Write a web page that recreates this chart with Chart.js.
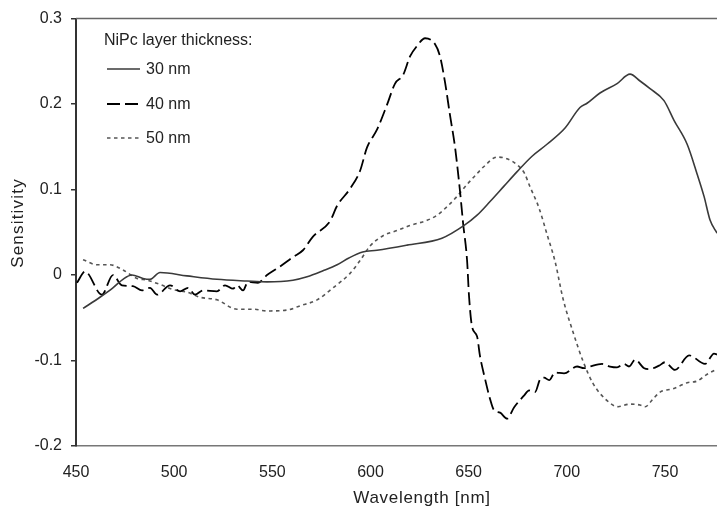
<!DOCTYPE html>
<html>
<head>
<meta charset="utf-8">
<script src="https://cdn.jsdelivr.net/npm/chart.js@4"></script>
<style>
  html, body { margin: 0; padding: 0; background: #fff; }
  #myChart { display: block; }
</style>
</head>
<body>
<canvas id="myChart" width="717" height="515"></canvas>
<script>
// 30 nm layer (solid)
const wl30 = [453.6, 462.2, 468.8, 473.9, 478.5, 484.1, 487.7, 492.8, 506.5, 521.8, 537.1, 547.3, 560.5, 567.7, 575.8, 583.0, 589.0, 596.0, 603.3, 618.6, 636.4, 647.7, 654.3, 660.9, 668.0, 674.7, 682.3, 689.9, 699.1, 706.7, 710.3, 716.9, 725.6, 732.2, 737.3, 742.4, 749.5, 754.6, 761.3, 766.4, 769.9, 773.0, 776.5];
const s30 = [-0.039, -0.026, -0.015, -0.005, 0.0, -0.004, -0.005, 0.003, -0.001, -0.005, -0.007, -0.008, -0.006, -0.002, 0.005, 0.012, 0.020, 0.027, 0.029, 0.035, 0.043, 0.058, 0.070, 0.086, 0.104, 0.121, 0.139, 0.153, 0.172, 0.196, 0.201, 0.213, 0.224, 0.235, 0.227, 0.218, 0.204, 0.181, 0.153, 0.118, 0.092, 0.064, 0.049];

// 40 nm layer (long dash)
const wl40 = [450.5, 454.6, 463.2, 468.8, 473.4, 479.0, 483.6, 487.7, 491.3, 497.9, 503.0, 507.1, 510.6, 514.7, 521.8, 525.9, 530.0, 532.0, 535.1, 537.6, 542.7, 547.3, 553.9, 560.5, 565.6, 570.7, 579.4, 583.0, 589.6, 594.7, 598.2, 603.3, 608.4, 612.5, 616.6, 620.2, 623.7, 627.8, 632.9, 635.4, 638.0, 640.5, 643.1, 645.6, 647.2, 649.2, 650.2, 651.7, 654.3, 655.8, 658.4, 660.9, 662.9, 666.0, 669.6, 673.1, 678.2, 680.8, 683.8, 686.4, 688.4, 691.0, 694.0, 698.6, 705.2, 708.8, 711.8, 718.0, 722.0, 725.6, 729.2, 731.7, 734.8, 739.4, 741.9, 747.0, 750.0, 755.1, 762.3, 770.4, 775.0, 776.5];
const s40 = [-0.009, 0.004, -0.023, 0.0, -0.012, -0.013, -0.018, -0.015, -0.023, -0.012, -0.019, -0.015, -0.023, -0.018, -0.019, -0.012, -0.016, -0.012, -0.018, -0.008, -0.009, 0.0, 0.010, 0.021, 0.029, 0.045, 0.063, 0.081, 0.101, 0.122, 0.149, 0.170, 0.199, 0.224, 0.234, 0.256, 0.268, 0.277, 0.270, 0.256, 0.225, 0.187, 0.149, 0.098, 0.060, 0.017, -0.025, -0.060, -0.072, -0.095, -0.122, -0.145, -0.158, -0.161, -0.168, -0.155, -0.141, -0.135, -0.137, -0.122, -0.120, -0.123, -0.114, -0.115, -0.107, -0.109, -0.107, -0.104, -0.107, -0.108, -0.104, -0.107, -0.099, -0.109, -0.110, -0.106, -0.102, -0.111, -0.094, -0.104, -0.092, -0.093];

// 50 nm layer (short dash)
const wl50 = [453.6, 460.7, 467.3, 473.9, 481.1, 486.2, 492.8, 499.4, 506.5, 513.2, 521.8, 532.0, 540.2, 547.3, 557.5, 564.1, 572.8, 580.9, 589.6, 594.7, 599.8, 606.4, 613.5, 620.2, 628.8, 633.9, 639.0, 644.1, 649.2, 652.8, 657.8, 664.5, 669.6, 674.7, 678.2, 681.3, 685.9, 690.0, 694.0, 698.1, 703.2, 708.3, 713.4, 720.5, 726.1, 732.2, 737.3, 739.9, 743.9, 747.5, 754.1, 761.3, 766.4, 771.5, 776.5];
const s50 = [0.018, 0.012, 0.012, 0.006, -0.004, -0.006, -0.011, -0.017, -0.020, -0.026, -0.029, -0.040, -0.040, -0.042, -0.041, -0.036, -0.029, -0.015, 0.002, 0.017, 0.034, 0.046, 0.052, 0.058, 0.064, 0.070, 0.080, 0.092, 0.106, 0.115, 0.127, 0.138, 0.136, 0.129, 0.120, 0.103, 0.078, 0.047, 0.016, -0.028, -0.067, -0.101, -0.127, -0.147, -0.154, -0.151, -0.152, -0.154, -0.145, -0.137, -0.133, -0.126, -0.124, -0.116, -0.110];

const seriesNames = ['30 nm', '40 nm', '50 nm'];
const xTicks = [450, 500, 550, 600, 650, 700, 750];
const yTicks = [-0.2, -0.1, 0, 0.1, 0.2, 0.3];

const FONT = '"Liberation Sans", Arial, sans-serif';

function zip(xs, ys) {
    return xs.map((x, i) => ({ x: x, y: ys[i] }));
}

const styles = [
    { color: '#3a3a3a', width: 1.6, dash: [] },
    { color: '#000000', width: 1.8, dash: [13, 5] },
    { color: '#555555', width: 1.6, dash: [3.5, 3.5] }
];

// legend, frame line and axis titles drawn by hand
const decor = {
    id: 'decor',
    afterDraw(chart) {
        const ctx = chart.ctx;
        const a = chart.chartArea;
        ctx.save();
        ctx.strokeStyle = '#666';
        ctx.lineWidth = 1.5;
        ctx.beginPath();
        ctx.moveTo(a.left, a.top);
        ctx.lineTo(a.right, a.top);
        ctx.stroke();

        ctx.fillStyle = '#222';
        ctx.font = '16px ' + FONT;
        ctx.textBaseline = 'middle';
        ctx.textAlign = 'left';
        ctx.fillText('NiPc layer thickness:', 104, 41);
        const rows = [69, 104, 138];
        seriesNames.forEach((name, i) => {
            const st = styles[i];
            ctx.strokeStyle = st.color;
            ctx.lineWidth = st.width;
            ctx.setLineDash(st.dash);
            ctx.beginPath();
            ctx.moveTo(107, rows[i]);
            ctx.lineTo(140, rows[i]);
            ctx.stroke();
            ctx.setLineDash([]);
            ctx.fillText(name, 146, rows[i] + 1);
        });

        ctx.font = '17px ' + FONT;
        ctx.textAlign = 'center';
        ctx.letterSpacing = '0.7px';
        ctx.fillText('Wavelength [nm]', 422, 498);
        ctx.letterSpacing = '1.2px';
        ctx.translate(18, 223);
        ctx.rotate(-Math.PI / 2);
        ctx.fillText('Sensitivity', 0, 0);
        ctx.restore();
    }
};

const data = {
    datasets: [zip(wl30, s30), zip(wl40, s40), zip(wl50, s50)].map((pts, i) => ({
        label: seriesNames[i],
        data: pts,
        borderColor: styles[i].color,
        borderWidth: styles[i].width,
        borderDash: styles[i].dash,
        pointRadius: 0,
        cubicInterpolationMode: 'monotone',
        fill: false
    }))
};

const config = {
    type: 'line',
    data: data,
    options: {
        responsive: false,
        animation: false,
        layout: { padding: { top: 12, right: 0, left: 0, bottom: 0 } },
        plugins: {
            legend: { display: false },
            title: { display: false },
            tooltip: { enabled: false }
        },
        scales: {
            x: {
                type: 'linear',
                min: 450,
                max: 776.5,
                afterBuildTicks: (s) => { s.ticks = xTicks.map(v => ({ value: v })); },
                afterFit: (s) => { s.height = 69; },
                grid: { display: false },
                border: { color: '#777', width: 1.5 },
                ticks: {
                    font: { family: FONT, size: 16 },
                    color: '#222',
                    padding: 9,
                    maxRotation: 0
                }
            },
            y: {
                type: 'linear',
                min: -0.2,
                max: 0.3,
                afterBuildTicks: (s) => { s.ticks = yTicks.map(v => ({ value: v })); },
                afterFit: (s) => { s.width = 76; },
                grid: { drawOnChartArea: false, drawTicks: true, tickLength: 5, color: '#333', lineWidth: 1.5 },
                border: { color: '#333', width: 2 },
                ticks: {
                    font: { family: FONT, size: 16 },
                    color: '#222',
                    padding: 9,
                    callback: (v) => String(Math.round(v * 10) / 10)
                }
            }
        }
    },
    plugins: [decor]
};

window.myChart = new Chart(document.getElementById('myChart'), config);
</script>
</body>
</html>
